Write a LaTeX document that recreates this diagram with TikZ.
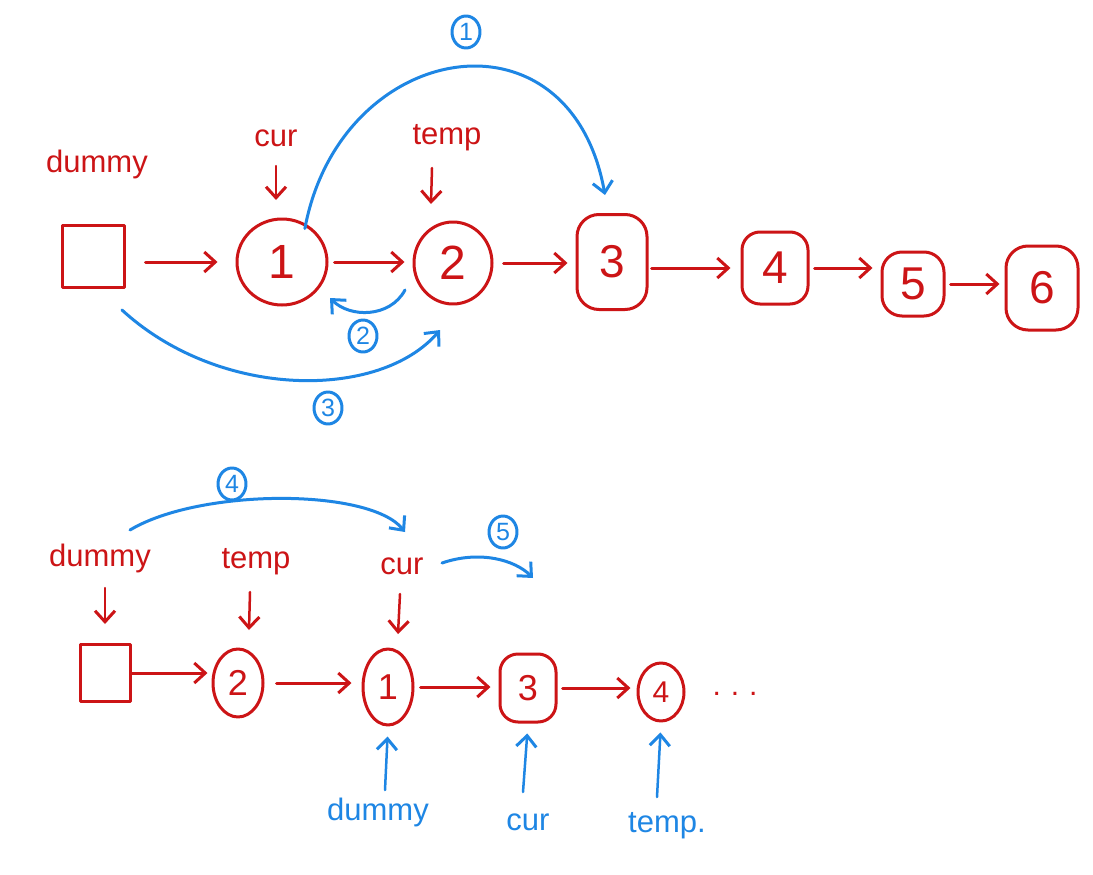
\documentclass[tikz,border=0pt]{standalone}
\usepackage{fontspec}
\setmainfont{Liberation Sans}
\usetikzlibrary{arrows.meta,shapes.geometric}
\definecolor{hred}{RGB}{204,20,22}
\definecolor{hblue}{RGB}{30,134,228}
\tikzset{
  redline/.style={draw=hred,line width=3pt,line cap=round,line join=round},
  blueline/.style={draw=hblue,line width=3pt,line cap=round,line join=round},
  tip/.style={-{Straight Barb[length=11pt,width=20pt,line width=3pt]}},
  sq/.style={redline,rectangle,inner sep=0pt},
  circ/.style={redline,ellipse,inner sep=0pt,text=hred,font=\fontsize{48}{50}\selectfont},
  rsq/.style={redline,rectangle,rounded corners=22pt,inner sep=0pt,text=hred,font=\fontsize{46}{48}\selectfont},
  bcirc/.style={redline,ellipse,inner sep=0pt,text=hred,font=\fontsize{36}{38}\selectfont},
  rlabel/.style={text=hred,font=\fontsize{31}{33}\selectfont},
  blabel/.style={text=hblue,font=\fontsize{31}{33}\selectfont},
  num/.style={blueline,ellipse,inner sep=0pt,minimum width=28pt,minimum height=32pt,text=hblue,font=\fontsize{25}{27}\selectfont},
}
\begin{document}
\begin{tikzpicture}[x=1pt,y=-1pt]
\useasboundingbox[fill=white] (0,0) rectangle (1093,875);
% ---------- top row ----------
\node[sq,minimum width=62pt,minimum height=62pt] (dsq) at (93,256) {};
\node[circ,minimum width=90pt,minimum height=86pt] (n1) at (282,262) {1};
\node[circ,minimum width=78pt,minimum height=82pt] (n2) at (453,263) {2};
\node[rsq,minimum width=70pt,minimum height=95pt] (n3) at (612,262) {3};
\node[rsq,minimum width=66pt,minimum height=72pt,rounded corners=18pt] (n4) at (775,268) {4};
\node[rsq,minimum width=62pt,minimum height=64pt,rounded corners=20pt] (n5) at (913,284) {5};
\node[rsq,minimum width=72pt,minimum height=84pt,rounded corners=22pt] (n6) at (1042,288) {6};
\draw[redline,tip,shorten <=20pt,shorten >=18pt] (dsq.east |- n1.west) -- (n1.west);
\draw[redline,tip,shorten <=6pt,shorten >=8pt] (n1.east) -- (n1.east -| n2.west);
\draw[redline,tip,shorten <=10pt,shorten >=8pt] (n2.east) -- (n2.east -| n3.west);
\draw[redline,tip,shorten <=3pt,shorten >=10pt] (n3.east |- n4.west) -- (n4.west);
\draw[redline,tip,shorten <=5pt,shorten >=8pt] (n4.east) -- (n4.east -| n5.west);
\draw[redline,tip,shorten <=5pt,shorten >=5pt] (n5.east) -- (n5.east -| n6.west);
\node[rlabel] (tdummy) at (97,164) {dummy};
\node[rlabel] (tcur) at (276,138) {cur};
\node[rlabel] (ttemp) at (447,138) {temp};
\coordinate (tcurA) at (276,166);
\coordinate (ttempA) at (432,168);
\draw[redline,tip,line width=2.5pt] (tcurA) -- ++(0,34);
\draw[redline,tip,line width=2.5pt] (ttempA) -- ++(-1,36);
% blue steps top
\draw[blueline,tip] (n1.north east) ++(-10,-2) coordinate (a1s) .. controls (340,40) and (570,0) .. (605,195) coordinate (a1e);
\node[num] (c1) at (466,32) {1};
\coordinate (a2s) at (405,290);
\draw[blueline,tip] (a2s) .. controls (390,318) and (350,318) .. (330,298);
\node[num] (c2) at (363,336) {2};
\coordinate (a3s) at (122,310);
\coordinate (a3e) at (440,330);
\draw[blueline,tip] (a3s) .. controls (220,400) and (380,400) .. (a3e);
\node[num] (c3) at (328,408) {3};
% ---------- bottom row ----------
\node[sq,minimum width=50pt,minimum height=57pt] (bsq) at (105,673) {};
\node[bcirc,minimum width=50pt,minimum height=68pt] (b2) at (238,683) {2};
\node[bcirc,minimum width=50pt,minimum height=76pt] (b1) at (388,687) {1};
\node[rsq,minimum width=56pt,minimum height=68pt,rounded corners=18pt,font=\fontsize{36}{38}\selectfont] (b3) at (528,688) {3};
\node[bcirc,minimum width=46pt,minimum height=58pt,font=\fontsize{30}{32}\selectfont] (b4) at (661,692) {4};
\node[text=hred,font=\fontsize{30}{32}\selectfont] (dots) at (735,694) {.\,\,.\,\,.};
\draw[redline,tip,shorten >=4pt] (bsq.east) -- (bsq.east -| b2.west);
\draw[redline,tip,shorten <=12pt,shorten >=10pt] (b2.east) -- (b2.east -| b1.west);
\draw[redline,tip,shorten <=6pt,shorten >=8pt] (b1.east) -- (b1.east -| b3.west);
\draw[redline,tip,shorten <=5pt,shorten >=6pt] (b3.east) -- (b3.east -| b4.west);
\node[rlabel] (bdummy) at (100,558) {dummy};
\node[rlabel] (btemp) at (256,562) {temp};
\node[rlabel] (bcur) at (402,566) {cur};
\draw[redline,tip,line width=2.5pt] (105,588) coordinate (bdA) -- ++(0,36);
\draw[redline,tip,line width=2.5pt] (250,592) coordinate (btA) -- ++(-1,38);
\draw[redline,tip,line width=2.5pt] (400,594) coordinate (bcA) -- ++(-2,40);
\coordinate (a4s) at (130,530);
\coordinate (a4e) at (405,532);
\draw[blueline,tip] (a4s) .. controls (200,488) and (370,488) .. (a4e);
\node[num] (c4) at (232,484) {4};
\coordinate (a5s) at (442,563);
\coordinate (a5e) at (533,578);
\draw[blueline,tip] (a5s) .. controls (480,550) and (515,560) .. (a5e);
\node[num] (c5) at (503,532) {5};
\node[blabel] (ldummy) at (378,812) {dummy};
\node[blabel] (lcur) at (528,822) {cur};
\node[blabel] (ltemp) at (667,826) {temp.};
\draw[blueline,tip,line width=2.5pt,shorten >=10pt] (385,790) coordinate (udA) -- (b1.south);
\draw[blueline,tip,line width=2.5pt,shorten >=10pt] (523,792) coordinate (ucA) -- (b3.south);
\draw[blueline,tip,line width=2.5pt,shorten >=10pt] (657,797) coordinate (utA) -- (b4.south);
\end{tikzpicture}
\end{document}
